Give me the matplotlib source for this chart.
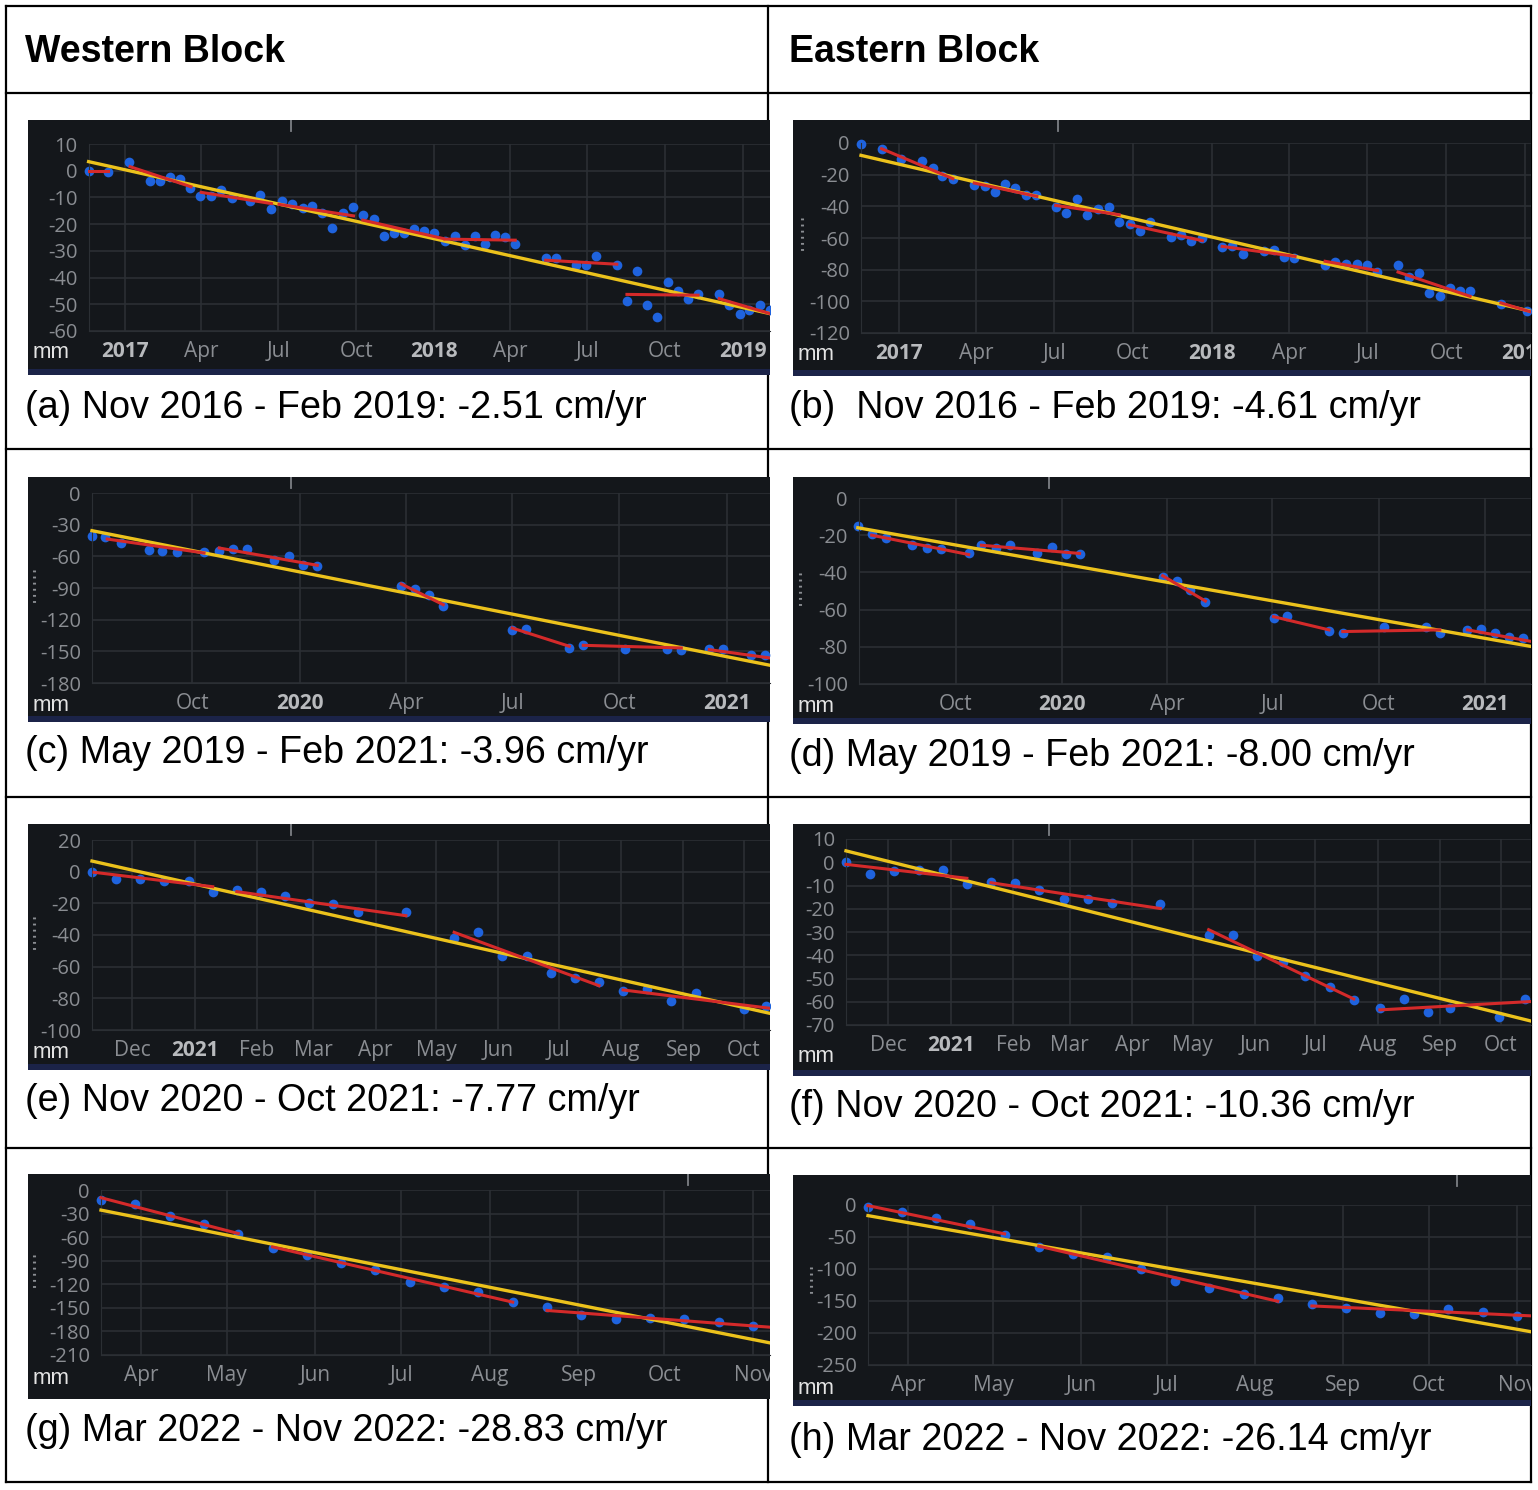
import calendar
import numpy as np
import matplotlib
matplotlib.use('Agg')
import matplotlib.pyplot as plt
import matplotlib.dates as mdates
from matplotlib.lines import Line2D
from matplotlib.patches import Rectangle

plt.rcParams['font.family'] = ['Liberation Sans', 'DejaVu Sans']

# ---------------- data (days from each panel's origin date, mm) ----------------
headers = ['Western Block', 'Eastern Block']
captions = ['(a) Nov 2016 - Feb 2019: -2.51 cm/yr', '(b)  Nov 2016 - Feb 2019: -4.61 cm/yr',
            '(c) May 2019 - Feb 2021: -3.96 cm/yr', '(d) May 2019 - Feb 2021: -8.00 cm/yr',
            '(e) Nov 2020 - Oct 2021: -7.77 cm/yr', '(f) Nov 2020 - Oct 2021: -10.36 cm/yr',
            '(g) Mar 2022 - Nov 2022: -28.83 cm/yr', '(h) Mar 2022 - Nov 2022: -26.14 cm/yr']

a_days = [-43, -20, 5, 29, 41, 53, 65, 77, 89, 102, 113, 126, 148, 160, 173, 186, 197, 210, 221, 233,
          245, 257, 269, 281, 294, 306, 318, 330, 341, 353, 365, 378, 390, 402, 413, 425, 437, 449, 461, 497,
          509, 533, 545, 557, 581, 593, 605, 617, 629, 641, 653, 665, 677, 702, 713, 726, 737, 750, 762]
a_mm = [0, -0.4, 3.4, -3.8, -3.8, -2.3, -3.1, -6.6, -9.4, -9.4, -7.3, -10.4, -11.4, -9.1, -14.4, -11.4, -12.6, -13.9, -13.1, -16,
        -21.4, -16, -13.5, -16.4, -17.9, -24.4, -23.5, -23.5, -21.9, -22.4, -23.5, -26.4, -24.4, -27.9, -24.4, -27.3, -23.9, -24.8, -27.6, -32.6,
        -32.6, -35.4, -35.4, -31.9, -35.4, -48.9, -37.6, -50.4, -54.8, -41.6, -45.1, -47.9, -46, -46, -50.1, -53.5, -52.3, -50.1, -52.3]
a_segs = [(-43, 0, -20, 0), (6, 1.5, 78, -6), (90, -8.1, 173, -12.3), (182, -12.6, 270, -16.9),
          (281, -18.5, 376, -25.4), (378, -25.6, 461, -26), (497, -33.5, 581, -35),
          (593, -46.3, 677, -46.6), (702, -47.9, 762, -53.5)]
a_trend = (-43, 3.4, 762, -53.5)

b_days = [-44, -20, 3, 27, 40, 51, 63, 88, 100, 112, 124, 136, 148, 160, 183, 195, 208, 220, 232, 245,
          257, 269, 281, 293, 317, 329, 341, 354, 377, 389, 401, 426, 438, 449, 461, 497, 509, 521, 534, 546,
          558, 582, 595, 607, 618, 631, 643, 654, 666, 702, 732]
b_mm = [-0.6, -3.6, -9.9, -11.2, -15.8, -21, -22.5, -26.3, -27.4, -31, -25.9, -28.4, -33, -33, -40.6, -44.2, -35.2, -45.3, -41.5, -40.6,
        -50.1, -51.2, -55.4, -49.9, -59.6, -57.9, -61.7, -60, -65.9, -65.3, -70.1, -68.4, -67.4, -72.2, -72.6, -77.3, -75.2, -76.4, -76.4, -76.8,
        -81.5, -76.8, -84.8, -82.1, -94.7, -96.8, -91.6, -93.3, -93.7, -101.7, -105.9]
b_segs = [(-20, -3.6, 63, -22.5), (88, -25.3, 161, -33.7), (183, -39.4, 257, -45.3), (269, -51.6, 354, -61.7),
          (377, -65.3, 462, -71.6), (497, -74.7, 558, -80.6), (582, -81.5, 666, -96.8), (702, -101, 737, -106.7)]
b_trend = (-44, -7.8, 737, -106.3)

c_days = [-178, -167, -153, -129, -118, -105, -82, -69, -57, -45, -22, -9, 3, 15, 87, 99, 111, 123, 182, 194,
          231, 243, 279, 315, 327, 351, 363, 387, 399]
c_mm = [-41, -42, -47.4, -53.7, -55.3, -55.9, -55.9, -55.3, -52.7, -52.7, -63.8, -60, -67.9, -69.5, -87.8, -90.6, -96.3, -107.4, -129.5, -128.5,
        -146.8, -144.3, -147.5, -147.5, -148.4, -147.5, -147.5, -153, -153]
c_segs = [(-165, -43.6, -82, -56.8), (-69, -52.1, 15, -68.5), (87, -86.2, 123, -105.8),
          (182, -127.9, 231, -145.2), (243, -144.3, 327, -146.8), (351, -148.4, 403, -156.3)]
c_trend = (-178, -35.7, 403, -163.2)

d_days = [-177, -165, -153, -130, -117, -105, -81, -70, -57, -45, -22, -9, 3, 15, 87, 99, 111, 124, 183, 195,
          231, 243, 279, 315, 327, 351, 363, 375, 387, 399]
d_mm = [-15, -19.6, -21.3, -25.4, -26.8, -27.5, -29.5, -25.4, -26.8, -25, -29.8, -26.3, -30.2, -30.2, -42.3, -44.6, -49.5, -55.7, -64.3, -63.6,
        -71.4, -72.7, -69.6, -69.6, -72.7, -70.9, -70.4, -72.7, -74.5, -75.4]
d_segs = [(-165, -20, -81, -30.4), (-70, -25.4, 15, -29.8), (87, -41.8, 124, -55.4),
          (183, -63.8, 231, -70.9), (243, -71.8, 327, -70.9), (351, -70.9, 406, -77.1)]
d_trend = (-177, -16, 406, -79.8)

e_days = [-51, -39, -27, -15, -3, 9, 21, 33, 45, 57, 69, 81, 105, 129, 141, 153, 165, 177, 189, 201,
          213, 225, 237, 249, 273, 284]
e_mm = [0, -4.6, -4.6, -5.9, -5.9, -12.6, -11.6, -13, -15.2, -20, -20.6, -25.7, -25.7, -41.7, -37.9, -53, -53, -64.2, -67, -69.5,
        -75.4, -74.2, -81.7, -76.8, -86.7, -84.6]
e_segs = [(-50, -0.4, 9, -9.5), (21, -12.6, 105, -27.8), (129, -38.3, 201, -72), (213, -74.7, 286, -86.3)]
e_trend = (-51, 6.7, 286, -89.5)

f_days = [-52, -40, -28, -16, -4, 8, 20, 32, 44, 56, 68, 80, 104, 128, 140, 152, 165, 176, 188, 200,
          213, 225, 237, 248, 272, 285]
f_mm = [0.3, -4.9, -3.7, -3.5, -3.5, -9.5, -8.4, -8.8, -12.1, -16, -16, -17.4, -17.9, -31.1, -31.1, -40.5, -42.7, -49.1, -53.5, -59.2,
        -62.8, -58.8, -64.6, -62.5, -66.4, -58.8]
f_segs = [(-52, -0.9, 8, -6.9), (20, -8.8, 104, -19.9), (128, -29, 200, -58.8), (213, -63.5, 288, -59.9)]
f_trend = (-52, 4.9, 288, -68.3)

g_days = [-14, -2, 10, 22, 34, 46, 58, 70, 82, 94, 106, 118, 130, 142, 154, 166, 178, 190, 202, 214]
g_mm = [-12.8, -17.9, -32.8, -43.9, -55.4, -73.7, -83, -92.4, -102.2, -117.1, -123.5, -129.9, -142.7, -149,
        -158.9, -164, -163.1, -164, -168.2, -172.5]
g_segs = [(-14, -9.8, 34, -55.4), (46, -72.4, 130, -142.7), (142, -153.3, 220, -174.6)]
g_trend = (-14, -25.6, 220, -194.6)

h_days = [-14, -2, 10, 22, 34, 46, 58, 70, 82, 94, 106, 118, 130, 142, 154, 166, 178, 190, 202, 214]
h_mm = [-3.6, -11.4, -20.7, -29.6, -46.7, -65.9, -76.2, -81.4, -100.6, -119.3, -129.7, -138.5, -145.2, -154,
        -160.8, -168, -169.6, -161.8, -167, -173.2]
h_segs = [(-14, -1, 34, -45.1), (46, -64.3, 130, -150.4), (142, -157.7, 219, -173.2)]
h_trend = (-14, -16.6, 219, -198)

ticks_ab = ['2017-01', '2017-04', '2017-07', '2017-10', '2018-01', '2018-04', '2018-07', '2018-10', '2019-01']
ticks_cd = ['2019-10', '2020-01', '2020-04', '2020-07', '2020-10', '2021-01']
ticks_ef = ['2020-12', '2021-01', '2021-02', '2021-03', '2021-04', '2021-05', '2021-06',
            '2021-07', '2021-08', '2021-09', '2021-10']
ticks_gh = ['2022-04', '2022-05', '2022-06', '2022-07', '2022-08', '2022-09', '2022-10', '2022-11']

yt_a = [10, 0, -10, -20, -30, -40, -50, -60]
yt_b = [0, -20, -40, -60, -80, -100, -120]
yt_c = [0, -30, -60, -90, -120, -150, -180]
yt_d = [0, -20, -40, -60, -80, -100]
yt_e = [20, 0, -20, -40, -60, -80, -100]
yt_f = [10, 0, -10, -20, -30, -40, -50, -60, -70]
yt_g = [0, -30, -60, -90, -120, -150, -180, -210]
yt_h = [0, -50, -100, -150, -200, -250]

# ---------------- style ----------------
W, H = 1538, 1490
BG = '#14171b'
GRID = '#2b2f34'
TICKC = '#8a8d92'
YEARC = '#b8babd'
BLUE = '#1f63de'
RED = '#d42a2a'
YELLOW = '#ecc21c'
NAVY = '#1b2348'
TICKFONT = ['Open Sans', 'DejaVu Sans']

fig = plt.figure(figsize=(W / 100, H / 100), dpi=100)


def add_px_axes(x0, y0, x1, y1):
    return fig.add_axes([x0 / W, 1 - y1 / H, (x1 - x0) / W, (y1 - y0) / H])


def hline(y, x0=6, x1=1531):
    fig.add_artist(Line2D([x0 / W, x1 / W], [1 - y / H, 1 - y / H], color='black', lw=1.6, zorder=-1))


def vline(x, y0=6, y1=1482):
    fig.add_artist(Line2D([x / W, x / W], [1 - y0 / H, 1 - y1 / H], color='black', lw=1.6, zorder=-1))


# table grid
for y in [6, 93, 449, 797, 1148, 1482]:
    hline(y)
for x in [6, 768, 1531]:
    vline(x)

fig.text(25 / W, 1 - 52 / H, headers[0], fontsize=27, fontweight='bold', va='center', ha='left')
fig.text(789 / W, 1 - 52 / H, headers[1], fontsize=27, fontweight='bold', va='center', ha='left')


def panel(bg, left, top, bottom, origin, xlim, ticks, yt, days, mm, segs, trend, mm_y,
          navy=True, dots=None, mark_x=None):
    bg_ax = add_px_axes(*bg)
    bg_ax.set_facecolor(BG)
    bg_ax.set_xticks([])
    bg_ax.set_yticks([])
    for s in bg_ax.spines.values():
        s.set_visible(False)
    hgt = bg[3] - bg[1]
    if navy:
        bg_ax.add_patch(Rectangle((0, 0), 1, 6 / hgt, transform=bg_ax.transAxes,
                                  color=NAVY, lw=0))
    if mark_x is not None:
        # little grey stub at the top edge of the screenshot
        xm = (mark_x - bg[0]) / (bg[2] - bg[0])
        bg_ax.plot([xm, xm], [1, 1 - 11 / hgt], transform=bg_ax.transAxes, color='#7d8085', lw=1.3)

    ax = add_px_axes(left, top, bg[2], bottom)
    ax.set_facecolor('none')
    ax.set_zorder(1)
    t0 = mdates.datestr2num(origin)

    pts, = ax.plot(t0 + np.array(days), mm, 'o', color=BLUE, ms=7, mec='none', zorder=2)
    arts = [pts]
    tr, = ax.plot([t0 + trend[0], t0 + trend[2]], [trend[1], trend[3]], color=YELLOW, lw=2.4, zorder=3)
    arts.append(tr)
    for d0, v0, d1, v1 in segs:
        ln, = ax.plot([t0 + d0, t0 + d1], [v0, v1], color=RED, lw=2.2, zorder=4)
        arts.append(ln)
    for a in arts:
        a.set_clip_box(bg_ax.bbox)

    ax.set_xlim(t0 + xlim[0], t0 + xlim[1])
    ax.set_ylim(yt[-1], yt[0])
    ax.set_yticks(yt)
    ax.set_yticklabels([str(v) for v in yt])

    pos, labs = [], []
    for s in ticks:
        yr, mo = map(int, s.split('-'))
        pos.append(mdates.datestr2num(s + '-01'))
        labs.append(str(yr) if mo == 1 else calendar.month_abbr[mo])
    ax.set_xticks(pos)
    ax.set_xticklabels(labs)
    ax.tick_params(axis='both', length=0, labelcolor=TICKC)
    ax.tick_params(axis='x', pad=7.5, labelsize=15)
    ax.tick_params(axis='y', pad=8, labelsize=14.5)
    for lab in ax.get_xticklabels() + ax.get_yticklabels():
        lab.set_family(TICKFONT)
        lab.set_clip_box(bg_ax.bbox)
        lab.set_clip_on(True)
    for lab, s in zip(ax.get_xticklabels(), ticks):
        if s.endswith('-01'):
            lab.set_fontweight('bold')
            lab.set_color(YEARC)

    ax.grid(True, color=GRID, lw=1.2)
    ax.spines['top'].set_visible(False)
    ax.spines['right'].set_visible(False)
    ax.spines['left'].set_color(GRID)
    ax.spines['bottom'].set_color(GRID)

    fig.text((bg[0] + 5) / W, 1 - mm_y / H, 'mm', color='#e4e4e4', fontsize=16,
             va='center', ha='left', zorder=5)
    if dots:
        x, y0, y1 = dots
        fig.add_artist(Line2D([x / W, x / W], [1 - y0 / H, 1 - y1 / H], color=TICKC,
                              lw=2.2, ls=(0, (0.6, 1.4)), zorder=5))


panel((28, 120, 770, 375), 88.6, 144, 331, '2017-01-01', (-43, 762), ticks_ab, yt_a,
      a_days, a_mm, a_segs, a_trend, 353, mark_x=291)
panel((793, 120, 1531, 376), 861, 143, 333, '2017-01-01', (-44, 737), ticks_ab, yt_b,
      b_days, b_mm, b_segs, b_trend, 355, dots=(802, 218, 253), mark_x=1058)
panel((28, 477, 770, 722), 92, 493, 683, '2020-01-01', (-178, 403), ticks_cd, yt_c,
      c_days, c_mm, c_segs, c_trend, 705, dots=(34, 570, 605), mark_x=291)
panel((793, 477, 1531, 724), 859, 498, 684, '2020-01-01', (-176, 406), ticks_cd, yt_d,
      d_days, d_mm, d_segs, d_trend, 707, dots=(800, 573, 607), mark_x=1049)
panel((28, 824, 770, 1070), 92, 840, 1030, '2021-01-01', (-51, 286), ticks_ef, yt_e,
      e_days, e_mm, e_segs, e_trend, 1053, dots=(34, 917, 952), mark_x=291)
panel((793, 824, 1531, 1076), 846, 839, 1025, '2021-01-01', (-52, 288), ticks_ef, yt_f,
      f_days, f_mm, f_segs, f_trend, 1057, mark_x=1049)
panel((28, 1174, 770, 1399), 101, 1190, 1355, '2022-04-01', (-14, 220), ticks_gh, yt_g,
      g_days, g_mm, g_segs, g_trend, 1379, navy=False, dots=(34, 1255, 1289), mark_x=688)
panel((793, 1175, 1531, 1406), 868, 1205, 1365, '2022-04-01', (-14, 219), ticks_gh, yt_h,
      h_days, h_mm, h_segs, h_trend, 1389, dots=(811, 1267, 1295), mark_x=1457)

cap_pos = [(25, 408), (789, 408), (25, 753), (789, 756), (25, 1101), (789, 1107), (25, 1431), (789, 1440)]
for txt, (x, y) in zip(captions, cap_pos):
    fig.text(x / W, 1 - y / H, txt, fontsize=27.2, va='center', ha='left')

fig.savefig('out.png', dpi=100, facecolor='white')
plt.close(fig)
